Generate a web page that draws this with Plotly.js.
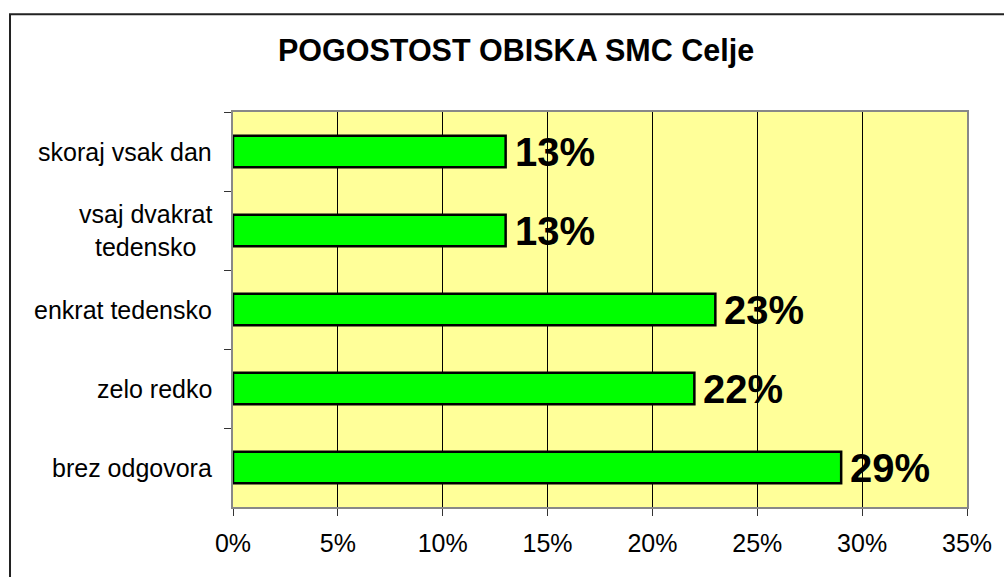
<!DOCTYPE html>
<html>
<head>
<meta charset="utf-8">
<script src="https://cdn.plot.ly/plotly-3.0.1.min.js"></script>
<style>
html,body{margin:0;padding:0;background:#fff;}
#chart{width:1004px;height:577px;}
</style>
</head>
<body>
<div id="chart"></div>
<script>
const categories = ["skoraj vsak dan", "vsaj dvakrat<br>tedensko", "enkrat tedensko", "zelo redko", "brez odgovora"];
const values = [13, 13, 23, 22, 29];
const valueLabels = ["13%", "13%", "23%", "22%", "29%"];
const xTickVals = [0, 5, 10, 15, 20, 25, 30, 35];
const xTickText = ["0%", "5%", "10%", "15%", "20%", "25%", "30%", "35%"];
const titleText = "POGOSTOST OBISKA SMC Celje";

const trace = {
  type: "bar",
  orientation: "h",
  x: values,
  y: categories,
  marker: {color: "#00FF00", line: {color: "#000000", width: 2.5}},
  hoverinfo: "skip"
};

const annotations = [];
categories.forEach((c, i) => {
  annotations.push({
    xref: "paper", yref: "y", x: 0, y: c, text: c,
    xanchor: "right", yanchor: "middle", xshift: -19, align: "center",
    showarrow: false,
    font: {family: "Liberation Sans, Arial, sans-serif", size: 25, color: "#000"}
  });
  annotations.push({
    xref: "x", yref: "y", x: values[i], y: c, text: "<b>" + valueLabels[i] + "</b>",
    xanchor: "left", yanchor: "middle", xshift: 7, yshift: 0,
    showarrow: false,
    font: {family: "Liberation Sans, Arial, sans-serif", size: 40, color: "#000"}
  });
});

const layout = {
  width: 1004, height: 577,
  margin: {l: 233, r: 37, t: 112, b: 70},
  paper_bgcolor: "#ffffff",
  plot_bgcolor: "#FFFF99",
  showlegend: false,
  bargap: 0.6,
  title: {
    text: "<b>" + titleText + "</b>",
    x: 0.514, xref: "container", xanchor: "center",
    y: 0.912, yref: "container", yanchor: "middle",
    font: {family: "Liberation Sans, Arial, sans-serif", size: 30.5, color: "#000"}
  },
  xaxis: {
    range: [0, 35],
    tickvals: xTickVals, ticktext: xTickText,
    showgrid: true, gridcolor: "#000000", gridwidth: 1,
    zeroline: false,
    showline: true, linecolor: "#888888", linewidth: 2, mirror: true,
    ticks: "outside", ticklen: 7, tickcolor: "#333", tickwidth: 1,
    ticklabelstandoff: 6,
    tickfont: {family: "Liberation Sans, Arial, sans-serif", size: 25, color: "#000"},
    fixedrange: true
  },
  yaxis: {
    type: "category",
    autorange: "reversed",
    showticklabels: false,
    tickson: "boundaries",
    ticks: "outside", ticklen: 7, tickcolor: "#333", tickwidth: 1,
    showgrid: false, zeroline: false,
    showline: true, linecolor: "#888888", linewidth: 2, mirror: true,
    fixedrange: true
  },
  annotations: annotations,
  shapes: [{
    type: "rect", xref: "paper", yref: "paper",
    x0: -0.3038, x1: 1.06, y0: -0.25, y1: 1.2475,
    line: {color: "#222", width: 2}, fillcolor: "rgba(0,0,0,0)", layer: "below"
  }]
};

Plotly.newPlot("chart", [trace], layout, {displayModeBar: false, staticPlot: true});
</script>
</body>
</html>
